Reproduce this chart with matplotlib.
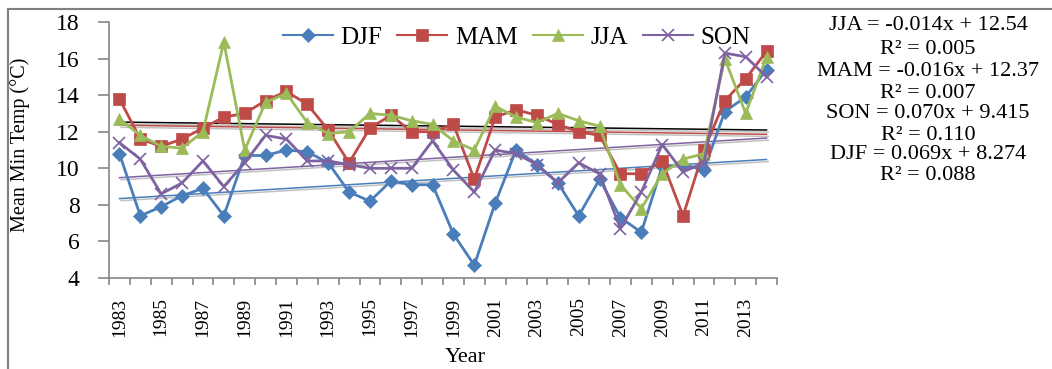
import matplotlib
matplotlib.use('Agg')
import matplotlib.pyplot as plt
import matplotlib.patheffects as pe
from matplotlib.lines import Line2D
import numpy as np

plt.rcParams['font.family'] = ['Liberation Serif', 'DejaVu Serif']

years = list(range(1983, 2015))

djf = [10.8, 7.4, 7.9, 8.5, 8.9, 7.4, 10.7, 10.7, 11.0, 10.9, 10.3, 8.7, 8.2, 9.3, 9.1, 9.1,
       6.4, 4.7, 8.1, 11.0, 10.2, 9.2, 7.4, 9.4, 7.3, 6.5, 10.1, 10.2, 9.9, 13.1, 13.9, 15.4]
mam = [13.8, 11.6, 11.2, 11.6, 12.2, 12.8, 13.0, 13.7, 14.2, 13.5, 12.1, 10.3, 12.2, 12.9, 12.0, 12.0,
       12.4, 9.4, 12.8, 13.2, 12.9, 12.4, 12.0, 11.8, 9.7, 9.7, 10.4, 7.4, 11.0, 13.7, 14.9, 16.4]
jja = [12.7, 11.8, 11.2, 11.1, 12.0, 16.9, 11.0, 13.6, 14.1, 12.5, 11.9, 12.0, 13.0, 12.9, 12.6, 12.4,
       11.5, 11.0, 13.4, 12.8, 12.5, 13.0, 12.6, 12.3, 9.1, 7.8, 9.7, 10.5, 10.8, 16.0, 13.0, 16.1]
son = [11.4, 10.5, 8.6, 9.2, 10.4, 9.0, 10.3, 11.8, 11.6, 10.4, 10.4, 10.2, 10.0, 10.0, 10.0, 11.5,
       9.9, 8.7, 11.0, 10.8, 10.2, 9.2, 10.3, 9.7, 6.7, 8.7, 11.3, 9.8, 10.3, 16.3, 16.1, 15.0]

# trend equations as printed on the chart (x = 1..32)
trend_names = ['JJA', 'MAM', 'SON', 'DJF']
trend_slope = [-0.014, -0.016, 0.070, 0.069]
trend_icpt = [12.54, 12.37, 9.415, 8.274]
trend_r2 = ['0.005', '0.007', '0.110', '0.088']

series = [('DJF', djf, '#4A7EBB', 'D', 7),
          ('MAM', mam, '#BE4B48', 's', 8),
          ('JJA', jja, '#9BBB59', '^', 9),
          ('SON', son, '#7F63A1', 'x', 9)]
trend_col = {'JJA': 'black', 'MAM': '#BE4B48', 'SON': '#7F63A1', 'DJF': '#4A7EBB'}

fig = plt.figure(figsize=(10.52, 3.69), dpi=100)
ax = fig.add_axes([109/1052, 1-278/369, 668/1052, 256/369])

pos = np.arange(len(years))
handles = []
for name, vals, col, mk, ms in series:
    mew = 1.2 if mk == 'x' else 0.5
    ax.plot(pos, vals, color=col, lw=2.0, marker=mk, ms=ms, mec=col, mfc=col, mew=mew, zorder=3)
    handles.append(Line2D([], [], color=col, lw=1.5, marker=mk, ms=ms, mec=col, mfc=col, mew=mew))

xt = pos + 1
shadow = [pe.SimpleLineShadow(offset=(1.2, -1.5), shadow_color='#999999', alpha=0.6), pe.Normal()]
for name, a, b in zip(trend_names, trend_slope, trend_icpt):
    ax.plot(pos, a*xt + b, color=trend_col[name], lw=1.1, zorder=2, path_effects=shadow)

ax.set_xlim(-0.5, len(years) - 0.5)
ax.set_ylim(4, 18)
ax.set_yticks(np.arange(4, 19, 2))
ax.set_xticks(np.arange(-0.5, len(years), 1.0))
ax.set_xticklabels([])
ax.set_xticks(pos[::2], minor=True)
ax.set_xticklabels([str(y) for y in years[::2]], minor=True, rotation=90)
ax.tick_params(axis='x', which='major', length=5, color='#868686', width=1.2, direction='out')
ax.tick_params(axis='x', which='minor', length=0, pad=14, labelsize=14)
ax.tick_params(axis='y', length=8, color='#868686', width=1.2, pad=13, labelsize=17)

for s in ['top', 'right']:
    ax.spines[s].set_visible(False)
for s in ['left', 'bottom']:
    ax.spines[s].set_color('#868686')
    ax.spines[s].set_linewidth(1.2)

ax.set_ylabel('Mean Min Temp (°C)', fontsize=14.5)
ax.yaxis.set_label_coords(-0.118, 0.52)
ax.set_xlabel('Year', fontsize=16, va='center')
ax.xaxis.set_label_coords(0.533, -0.31)

ax.legend(handles, [s[0] for s in series], loc='center', bbox_to_anchor=(0.61, 0.94),
          ncol=4, frameon=False, fontsize=18, handlelength=2.0, handletextpad=0.3,
          columnspacing=0.6, borderpad=0)

# equations on the right
eq_y = [26, 49, 71, 94, 114, 136, 154, 176]
lines = []
for name, a, b, r2 in zip(trend_names, trend_slope, trend_icpt, trend_r2):
    lines.append('%s = %s%sx + %s' % (name, '-' if a < 0 else '', ('%.3f' % abs(a)), ('%g' % b)))
    lines.append('R² = ' + r2)
for t, y in zip(lines, eq_y):
    fig.text(928/1052, 1 - y/369, t, ha='center', va='center', fontsize=16)

# outer frame (left and top edges visible)
fig.add_artist(Line2D([8/1052, 8/1052], [0, 1 - 9/369], color='#808080', lw=1.5))
fig.add_artist(Line2D([8/1052, 1], [1 - 9/369, 1 - 9/369], color='#808080', lw=1.5))

fig.savefig('out.png', dpi=100)
